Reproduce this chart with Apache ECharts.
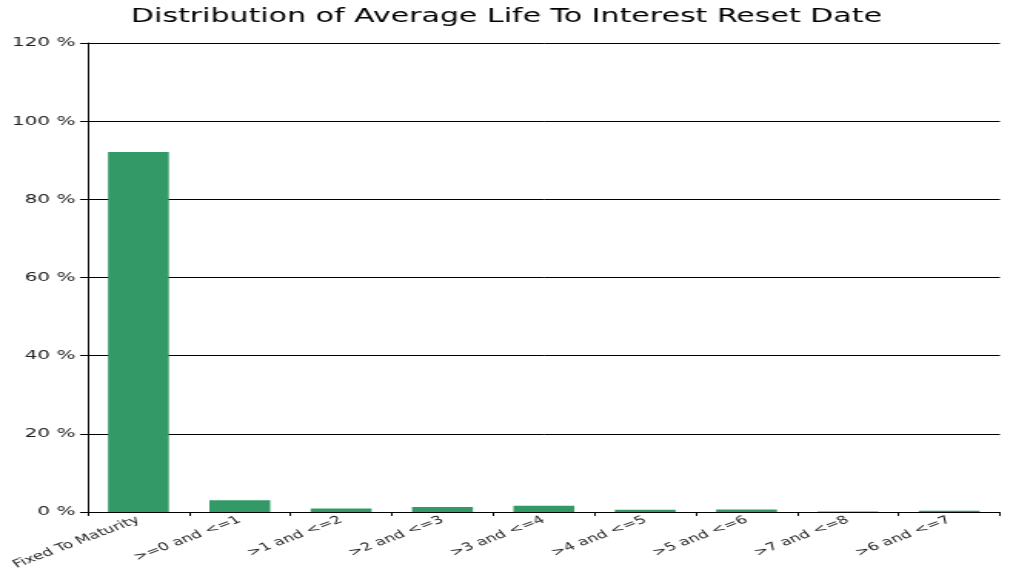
<!DOCTYPE html>
<html><head><meta charset="utf-8">
<script src="https://cdn.jsdelivr.net/npm/echarts@6/dist/echarts.min.js"></script>
<style>html,body{margin:0;padding:0;background:#fff;overflow:hidden}
#c{width:658px;height:577px;transform:scaleX(1.5395);transform-origin:0 0}</style>
</head><body><div id="c"></div>
<script>
const categories = ['Fixed To Maturity','>=0 and <=1','>1 and <=2','>2 and <=3','>3 and <=4','>4 and <=5','>5 and <=6','>7 and <=8','>6 and <=7'];
const values = [92.1, 3.0, 0.9, 1.3, 1.6, 0.6, 0.65, 0.1, 0.3];
const yTicks = [0, 20, 40, 60, 80, 100, 120];
const chart = echarts.init(document.getElementById('c'));
chart.setOption({
  animation: false,
  title: {text: 'Distribution of Average Life To Interest Reset Date', left: 'center', top: 2,
    textStyle: {fontFamily: 'DejaVu Sans', fontSize: 19.5, fontWeight: 'normal', color: '#000'}},
  grid: {left: 57, right: 8.5, top: 43, bottom: 65},
  xAxis: {type: 'category', data: categories,
    axisLine: {lineStyle: {color: '#000', width: 1}},
    axisTick: {show: true, alignWithLabel: false, length: 4, lineStyle: {color: '#000'}},
    axisLabel: {rotate: 30, interval: 0, fontFamily: 'DejaVu Sans', fontSize: 11, color: '#222', margin: 7}},
  yAxis: {type: 'value', min: yTicks[0], max: yTicks[yTicks.length - 1], interval: yTicks[1] - yTicks[0],
    axisLine: {show: true, lineStyle: {color: '#000'}},
    axisTick: {show: true, length: 5, lineStyle: {color: '#000'}},
    splitLine: {lineStyle: {color: '#000', width: 1}},
    axisLabel: {formatter: '{value} %', fontFamily: 'DejaVu Sans', fontSize: 13, color: '#222', margin: 8}},
  series: [{type: 'bar', data: values, barWidth: '60%', itemStyle: {color: '#339966'}}]
});
</script></body></html>
